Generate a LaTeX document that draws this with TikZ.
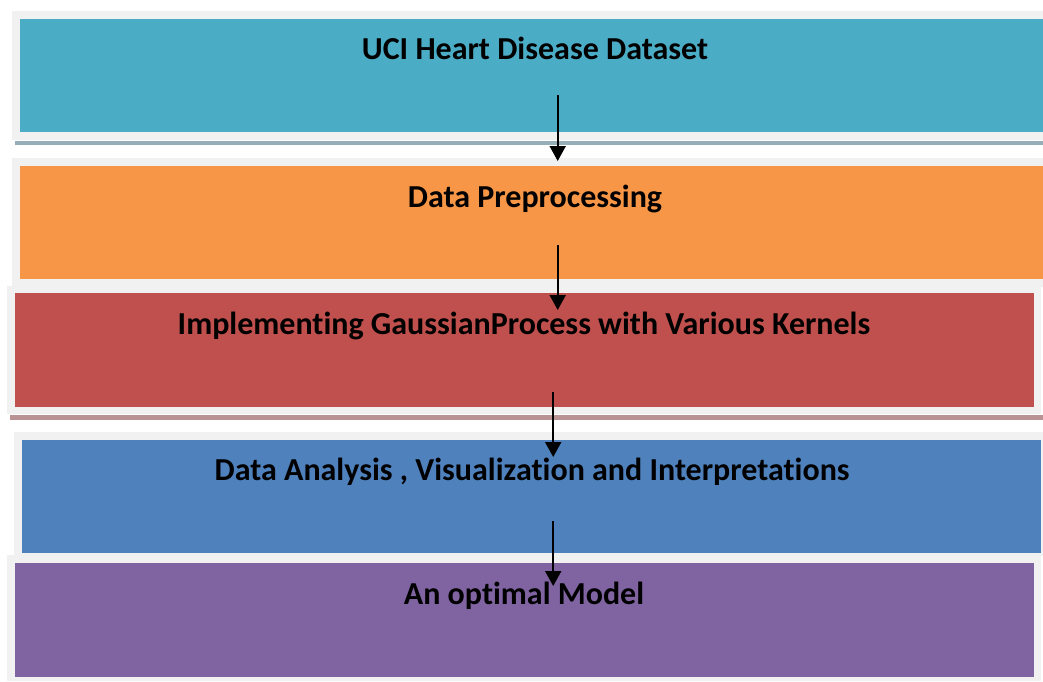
\documentclass[tikz,border=0pt]{standalone}
\usepackage{fontspec}
\setmainfont{Carlito}[Ligatures={NoCommon}]
\usetikzlibrary{arrows.meta}
\definecolor{frameg}{HTML}{F1F1F1}
\definecolor{cA}{HTML}{4BACC6}
\definecolor{cB}{HTML}{F79646}
\definecolor{cC}{HTML}{C0504D}
\definecolor{cD}{HTML}{4F81BD}
\definecolor{cE}{HTML}{8064A2}
\definecolor{shA}{HTML}{96AEB8}
\definecolor{shC}{HTML}{B99393}
\tikzset{
  boxfill/.style={draw=none, inner sep=0pt, anchor=north west},
  lbl/.style={font=\bfseries\fontsize{32}{36}\selectfont, text=black, anchor=base, inner sep=0pt},
  arr/.style={line width=2pt, -{Triangle[length=15pt,width=16pt]}},
}
\begin{document}
\begin{tikzpicture}[x=1pt,y=-1pt]
\useasboundingbox (0,0) rectangle (1043,681);
% box 1
\fill[frameg] (12,11) rectangle (1043,140);
\node[boxfill, fill=cA, minimum width=1023pt, minimum height=113pt] (b1) at (20,19) {};
\fill[shA] (15,141) rectangle (1043,145);
% box 2
\fill[frameg] (12,158) rectangle (1043,287);
\node[boxfill, fill=cB, minimum width=1023pt, minimum height=113pt] (b2) at (20,166) {};
% box 3
\fill[frameg] (7,286) rectangle (1041,414);
\node[boxfill, fill=cC, minimum width=1019pt, minimum height=114pt] (b3) at (15,293) {};
\fill[shC] (10,415) rectangle (1043,420);
% box 4
\fill[frameg] (14,432) rectangle (1043,556);
\node[boxfill, fill=cD, minimum width=1019pt, minimum height=113pt] (b4) at (22,440) {};
% box 5
\fill[frameg] (7,555) rectangle (1041,681);
\node[boxfill, fill=cE, minimum width=1019pt, minimum height=114pt] (b5) at (15,563) {};
% labels
\node[lbl] (t1) at (535,59) {UCI Heart Disease Dataset};
\node[lbl] (t2) at (535,207) {Data Preprocessing};
\node[lbl] (t3) at (524,334) {Implementing GaussianProcess with Various Kernels};
\node[lbl] (t4) at (532,480) {Data Analysis , Visualization and Interpretations};
\node[lbl] (t5) at (524,604) {An optimal Model};
% arrows
\draw[arr] ([xshift=26pt,yshift=37pt]b1.south) -- ([xshift=26pt,yshift=5pt]b2.north);
\draw[arr] ([xshift=26pt,yshift=34pt]b2.south) -- ([xshift=33pt,yshift=-17pt]b3.north);
\draw[arr] ([xshift=28.5pt,yshift=15pt]b3.south) -- ([xshift=21.5pt,yshift=-17pt]b4.north);
\draw[arr] ([xshift=21.5pt,yshift=32pt]b4.south) -- ([xshift=28.5pt,yshift=-23pt]b5.north);
\end{tikzpicture}
\end{document}
